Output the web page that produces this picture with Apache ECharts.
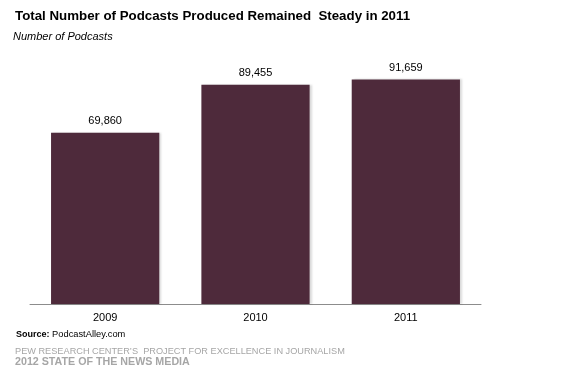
<!DOCTYPE html>
<html><head><meta charset="utf-8">
<script src="https://cdn.jsdelivr.net/npm/echarts@6/dist/echarts.min.js"></script>
<style>html,body{margin:0;padding:0;background:#fff}#c{width:571px;height:389px}</style>
</head><body><div id="c"></div>
<script>
var categories = ['2009', '2010', '2011'];
var podcasts = [69860, 89455, 91659];
var chart = echarts.init(document.getElementById('c'));
chart.setOption({
  animation: false,
  textStyle: { fontFamily: 'Liberation Sans, Arial, sans-serif' },
  grid: { left: 30, right: 90, top: 59, bottom: 85 },
  graphic: [
    { type: 'text', left: 15, top: 10, style: { text: 'Total Number of Podcasts Produced Remained  Steady in 2011', font: 'bold 13.3px Liberation Sans, Arial', fill: '#000' } },
    { type: 'text', left: 13, top: 31, style: { text: 'Number of Podcasts', font: 'italic 11px Liberation Sans, Arial', fill: '#000' } },
    { type: 'text', left: 16, top: 330, style: { rich: { b: { fontWeight: 'bold', fontSize: 9, fontFamily: 'Liberation Sans, Arial', fill: '#000' }, n: { fontSize: 9.3, fontFamily: 'Liberation Sans, Arial', fill: '#000' } }, text: '{b|Source:}{n| PodcastAlley.com}' } },
    { type: 'text', left: 15, top: 347, style: { text: 'PEW RESEARCH CENTER\u2019S  PROJECT FOR EXCELLENCE IN JOURNALISM', font: '9.2px Liberation Sans, Arial', fill: '#a6a6a6' } },
    { type: 'text', left: 15, top: 357, style: { text: '2012 STATE OF THE NEWS MEDIA', font: 'bold 10.7px Liberation Sans, Arial', fill: '#a6a6a6' } }
  ],
  xAxis: {
    type: 'category', data: categories,
    axisLine: { lineStyle: { color: '#8c8c8c', width: 1 } },
    axisTick: { show: false },
    axisLabel: { color: '#000', fontSize: 11, margin: 8 }
  },
  yAxis: { type: 'value', min: 0, max: 100000, show: false, splitLine: { show: false } },
  series: [{
    type: 'bar', data: podcasts, barWidth: '72%',
    itemStyle: { color: '#4e2a3b', shadowColor: 'rgba(0,0,0,0.15)', shadowOffsetX: 2, shadowBlur: 2 },
    label: { show: true, position: 'top', distance: 6, color: '#000', fontSize: 11,
      formatter: function (p) { return p.value.toLocaleString('en-US'); } }
  }]
});
</script></body></html>
